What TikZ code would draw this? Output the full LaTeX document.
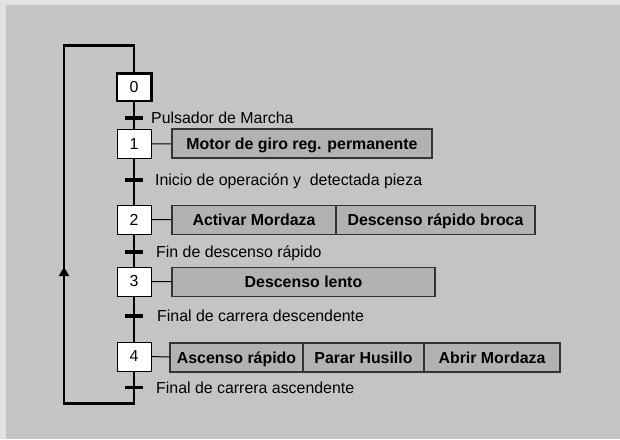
\documentclass[tikz,border=0pt]{standalone}
\usepackage{fontspec}
\setmainfont{Liberation Sans}
\usetikzlibrary{arrows.meta}

\definecolor{fondo}{RGB}{196,196,196}
\definecolor{marco}{RGB}{226,226,226}
\definecolor{gris}{RGB}{178,178,178}

\newcommand{\texto}{\fontsize{15.9}{19}\selectfont}

\tikzset{
  etapa/.style={draw, fill=white, line width=1pt, minimum width=34pt, minimum height=29pt, inner sep=0pt},
  inicial/.style={etapa, line width=2.5pt, minimum width=34.5pt, minimum height=27.5pt},
  accion/.style={draw=black!80, fill=gris, line width=1.2pt, minimum height=29pt, inner sep=0pt,
    text height=11.5pt, text depth=0pt, font=\texto\bfseries},
  receptividad/.style={fill=black, minimum width=18pt, minimum height=3.5pt, inner sep=0pt},
  cond/.style={anchor=base west, inner sep=0pt},
  linea/.style={line width=2.8pt},
  enlace/.style={line width=1pt}
}

\begin{document}
\begin{tikzpicture}[x=1pt, y=-1pt, font=\texto]
\useasboundingbox (0,0) rectangle (620,439);

% Fondo
\fill[marco] (0,0) rectangle (620,439);
\fill[fondo] (6,5) rectangle (620,439);

% Etapas
\node[inicial] (e0) at (134,87) {0};
\node[etapa] (e1) at (134,144) {1};
\node[etapa] (e2) at (134,219.5) {2};
\node[etapa] (e3) at (134,281.5) {3};
\node[etapa] (e4) at (134,356.5) {4};

% Receptividades
\node[receptividad] (t0) at (134,118) {};
\node[receptividad] (t1) at (134,180) {};
\node[receptividad] (t2) at (134,252) {};
\node[receptividad] (t3) at (134,316) {};
\node[receptividad] (t4) at (134,387.5) {};

\node[cond] (c0) at (151,123.7) {Pulsador de Marcha};
\node[cond] (c1) at (155,185.7) {Inicio de operación y\ \ detectada pieza};
\node[cond] (c2) at (156,257.7) {Fin de descenso rápido};
\node[cond] (c3) at (157,321.7) {Final de carrera descendente};
\node[cond] (c4) at (156,393.2) {Final de carrera ascendente};

% Acciones
\node[accion, minimum width=260pt] (a1) at (302,143.5) {Motor de giro reg. permanente};
\node[accion, minimum width=164pt] (a2a) at (254,220) {Activar Mordaza};
\node[accion, minimum width=199pt] (a2b) at (435.5,220) {Descenso rápido broca};
\node[accion, minimum width=263pt] (a3) at (303.5,282) {Descenso lento};
\node[accion, minimum width=133pt] (a4a) at (236.5,357.5) {Ascenso rápido};
\node[accion, minimum width=121pt] (a4b) at (363.5,357.5) {Parar Husillo};
\node[accion, minimum width=136pt] (a4c) at (492,357.5) {Abrir Mordaza};

\draw[enlace] (e1) -- (a1);
\draw[enlace] (e2) -- (a2a);
\draw[enlace] (e3) -- (a3);
\draw[enlace] (e4) -- (a4a);

% Secuencia
\draw[linea] (e0.south) -- (e1.north);
\draw[linea] (e1.south) -- (e2.north);
\draw[linea] (e2.south) -- (e3.north);
\draw[linea] (e3.south) -- (e4.north);

% Retorno a la etapa inicial
\coordinate (abajoD) at (134,403.5);
\coordinate (abajoI) at (64,403.5);
\coordinate (flecha) at (64,267);
\coordinate (arribaI) at (64,45.5);
\coordinate (arribaD) at (134,45.5);
\draw[linea] (e4.south) -- (abajoD) -- (abajoI) -- (arribaI) -- (arribaD) -- (e0.north);
\draw[linea, -{Triangle[length=9pt,width=10pt]}] (abajoI) -- (flecha);

\end{tikzpicture}
\end{document}
